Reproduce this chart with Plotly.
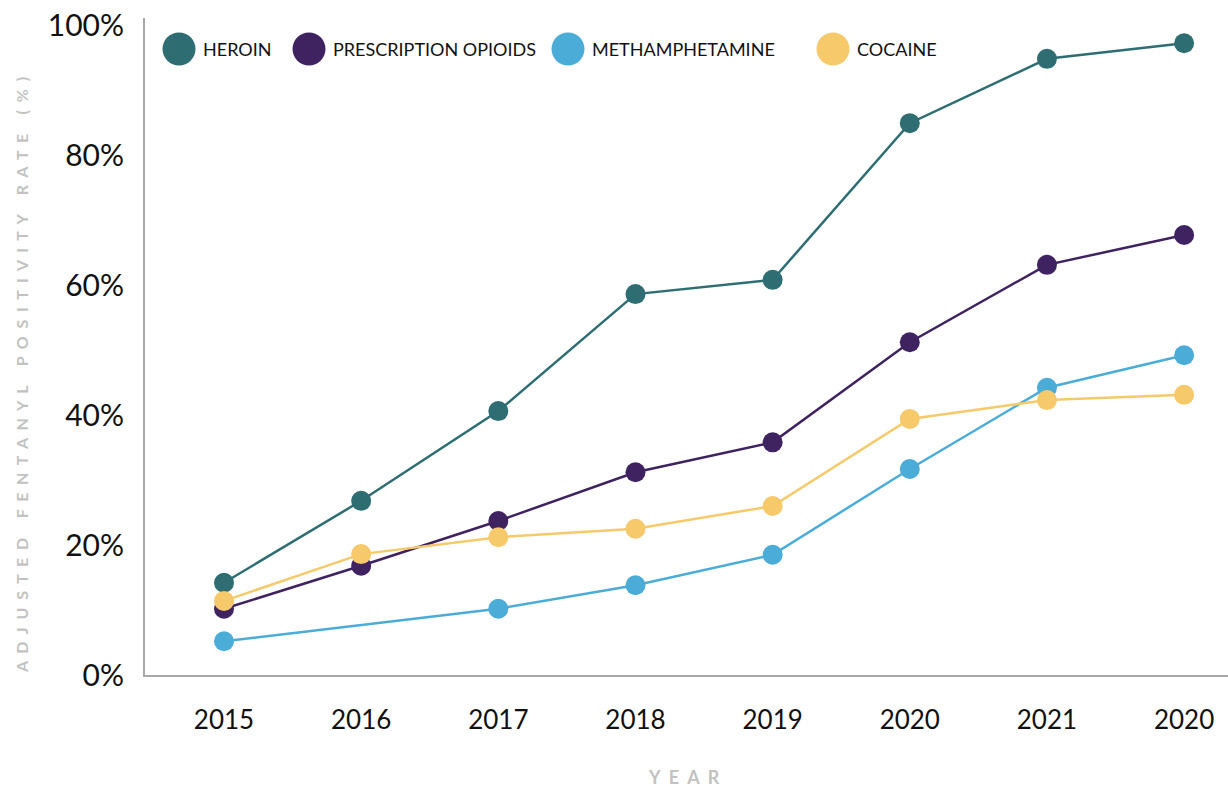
import plotly.graph_objects as go

years = ["2015", "2016", "2017", "2018", "2019", "2020", "2021", "2020"]
heroin = [14.2, 26.8, 40.6, 58.6, 60.8, 84.9, 94.8, 97.2]
prescription_opioids = [10.2, 16.8, 23.7, 31.2, 35.8, 51.2, 63.1, 67.7]
methamphetamine = [5.2, None, 10.2, 13.8, 18.5, 31.7, 44.2, 49.2]
cocaine = [11.4, 18.6, 21.2, 22.5, 26.0, 39.4, 42.3, 43.1]
y_ticks = [0, 20, 40, 60, 80, 100]
y_tick_labels = ["0%", "20%", "40%", "60%", "80%", "100%"]

series = [
    ("HEROIN", heroin, "#2E6E73"),
    ("PRESCRIPTION OPIOIDS", prescription_opioids, "#3F2260"),
    ("METHAMPHETAMINE", methamphetamine, "#4BACD8"),
    ("COCAINE", cocaine, "#F6C96A"),
]

xpos = list(range(len(years)))
fig = go.Figure()
for name, vals, col in series:
    fig.add_trace(go.Scatter(
        x=xpos, y=vals, name=name, mode="lines+markers",
        line=dict(color=col, width=2.5),
        marker=dict(color=col, size=20),
        connectgaps=True, showlegend=False,
    ))

W, H = 1228, 787
L, R, T, B = 145, 0, 18, 112
pw, ph = W - L - R, H - T - B


def px(x):
    return (x - L) / pw


def py(y):
    return (H - B - y) / ph


def spaced(text, gap=2, word_gap=5):
    nb = "\u00a0"
    words = text.split(" ")
    return (nb * word_gap).join((nb * gap).join(list(w)) for w in words)


# custom legend
legend_pos = [179, 309, 568, 833]
shapes = []
annotations = []
for (name, vals, col), cx in zip(series, legend_pos):
    shapes.append(dict(type="circle", xref="paper", yref="paper",
                       xsizemode="pixel", ysizemode="pixel",
                       xanchor=px(cx), yanchor=py(49),
                       x0=-16.5, x1=16.5, y0=-16.5, y1=16.5,
                       fillcolor=col, line=dict(width=0)))
    annotations.append(dict(xref="paper", yref="paper", x=px(cx + 22), y=py(49),
                            text=name, showarrow=False, xanchor="left", yanchor="middle",
                            font=dict(family="Lato, sans-serif", size=18, color="#111")))

annotations.append(dict(xref="paper", yref="paper", x=px(21), y=py(375),
                        text="<b>" + spaced("ADJUSTED FENTANYL POSITIVITY RATE (%)", 2, 5) + "</b>",
                        showarrow=False, textangle=-90, xanchor="center", yanchor="middle",
                        font=dict(family="Lato, sans-serif", size=16, color="#C2C2C2")))
annotations.append(dict(xref="paper", yref="paper", x=px(684), y=py(777),
                        text="<b>" + spaced("YEAR") + "</b>", showarrow=False,
                        xanchor="center", yanchor="middle",
                        font=dict(family="Lato, sans-serif", size=18, color="#C2C2C2")))

fig.update_layout(
    width=W, height=H,
    margin=dict(l=L, r=R, t=T, b=B),
    paper_bgcolor="white", plot_bgcolor="white",
    shapes=shapes, annotations=annotations,
    xaxis=dict(range=[-0.576, 7.32], tickvals=xpos, ticktext=years,
               showgrid=False, zeroline=False, showline=True,
               linecolor="#A8A8A8", linewidth=2, ticks="",
               ticklabelstandoff=21,
               tickfont=dict(family="Lato, sans-serif", size=26, color="#111")),
    yaxis=dict(range=[0, 101.08], tickvals=y_ticks, ticktext=y_tick_labels,
               showgrid=False, zeroline=False, showline=True,
               linecolor="#A8A8A8", linewidth=2, ticks="",
               ticklabelstandoff=13,
               tickfont=dict(family="Lato, sans-serif", size=30, color="#111")),
)

fig.write_html("out.html", config={"displayModeBar": False},
               post_script="document.body.style.margin='0';document.body.style.overflow='hidden';")
